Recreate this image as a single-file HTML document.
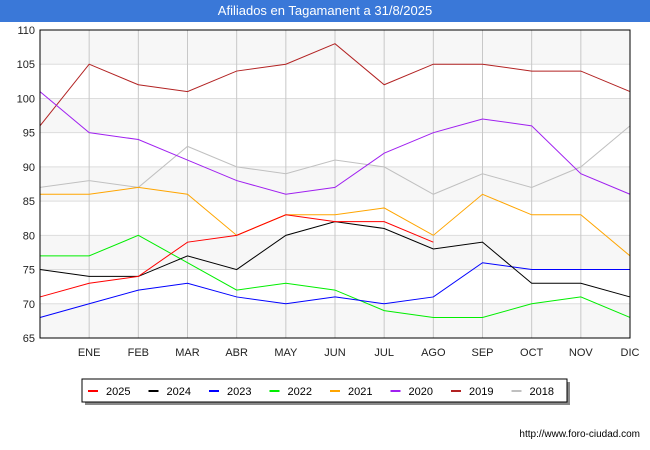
<!DOCTYPE html>
<html><head><meta charset="utf-8"><style>
body{margin:0;width:650px;height:450px;background:#fff;font-family:"Liberation Sans",sans-serif;overflow:hidden}
#title{position:absolute;left:0;top:0;width:650px;height:22px;background:#3a78d8;color:#fff;font-size:13px;text-align:center;line-height:22px}
</style></head><body>
<div id="title">Afiliados en Tagamanent a 31/8/2025</div>
<svg id="chart" width="650" height="450" style="position:absolute;left:0;top:0"></svg>
<script>
const months=["","ENE","FEB","MAR","ABR","MAY","JUN","JUL","AGO","SEP","OCT","NOV","DIC"];
const yTicks=[65,70,75,80,85,90,95,100,105,110];
const seriesNames=["2025","2024","2023","2022","2021","2020","2019","2018"];
const seriesColors=["#ff0000","#000000","#0000ff","#00ee00","#ffa500","#a020f0","#b22222","#c0c0c0"];
const s2025=[71,73,74,79,80,83,82,82,79];
const s2024=[75,74,74,77,75,80,82,81,78,79,73,73,71];
const s2023=[68,70,72,73,71,70,71,70,71,76,75,75,75];
const s2022=[77,77,80,76,72,73,72,69,68,68,70,71,68];
const s2021=[86,86,87,86,80,83,83,84,80,86,83,83,77];
const s2020=[101,95,94,91,88,86,87,92,95,97,96,89,86];
const s2019=[96,105,102,101,104,105,108,102,105,105,104,104,101];
const s2018=[87,88,87,93,90,89,91,90,86,89,87,90,96];
const allSeries=[s2025,s2024,s2023,s2022,s2021,s2020,s2019,s2018];
const L=40,R=630,T=30,B=338,ymin=65,ymax=110;
const X=i=>L+i*(R-L)/12;
const Y=v=>B-(v-ymin)*(B-T)/(ymax-ymin);
const svg=document.getElementById('chart');
const NS="http://www.w3.org/2000/svg";
function mk(t,a,p){const e=document.createElementNS(NS,t);for(const k in a)e.setAttribute(k,a[k]);(p||svg).appendChild(e);return e;}
for(let i=0;i<yTicks.length-1;i++){
  if((yTicks.length-2-i)%2===0){const r=mk('rect',{x:L,y:Y(yTicks[i+1]),width:R-L,height:Y(yTicks[i])-Y(yTicks[i+1]),fill:'#f7f7f7'});
  
  }
}
yTicks.forEach(v=>{
  const l=mk('line',{x1:L,x2:R,y1:Y(v),y2:Y(v),stroke:'#dddddd','stroke-width':1});
  
  
  const t=mk('text',{x:35,y:Y(v)+4,'text-anchor':'end','font-size':11,fill:'#222'});
  t.textContent=v;
  
  
});
months.forEach((m,i)=>{
  if(i===0)return;
  const l=mk('line',{x1:X(i),x2:X(i),y1:T,y2:B,stroke:'#c8c8c8','stroke-width':1});
  
  
  const t=mk('text',{x:X(i),y:356,'text-anchor':'middle','font-size':11,fill:'#222'});
  t.textContent=m;
  
  
});
for(let s=allSeries.length-1;s>=0;s--){
  const pts=allSeries[s].map((v,i)=>X(i)+','+Y(v)).join(' ');
  const p=mk('polyline',{points:pts,fill:'none',stroke:seriesColors[s],'stroke-width':1});
  
  
}
const fr=mk('rect',{x:L,y:T,width:R-L,height:B-T,fill:'none',stroke:'#000','stroke-width':1});


const lg=mk('g',{});


mk('rect',{x:85,y:382,width:485,height:23,fill:'#888'},lg);
mk('rect',{x:82,y:379,width:485,height:23,fill:'#fff',stroke:'#000','stroke-width':1},lg);
seriesNames.forEach((n,i)=>{
  const g=mk('g',{},lg);
  
  
  const x0=88+i*60.5;
  mk('line',{x1:x0,x2:x0+10,y1:391,y2:391,stroke:seriesColors[i],'stroke-width':2},g);
  const t=mk('text',{x:x0+18,y:395,'font-size':11,fill:'#000'},g);
  t.textContent=n;
});
const u=mk('text',{x:640,y:437,'text-anchor':'end','font-size':10,fill:'#000'});
u.textContent='http://www.foro-ciudad.com';


</script>
</body></html>
